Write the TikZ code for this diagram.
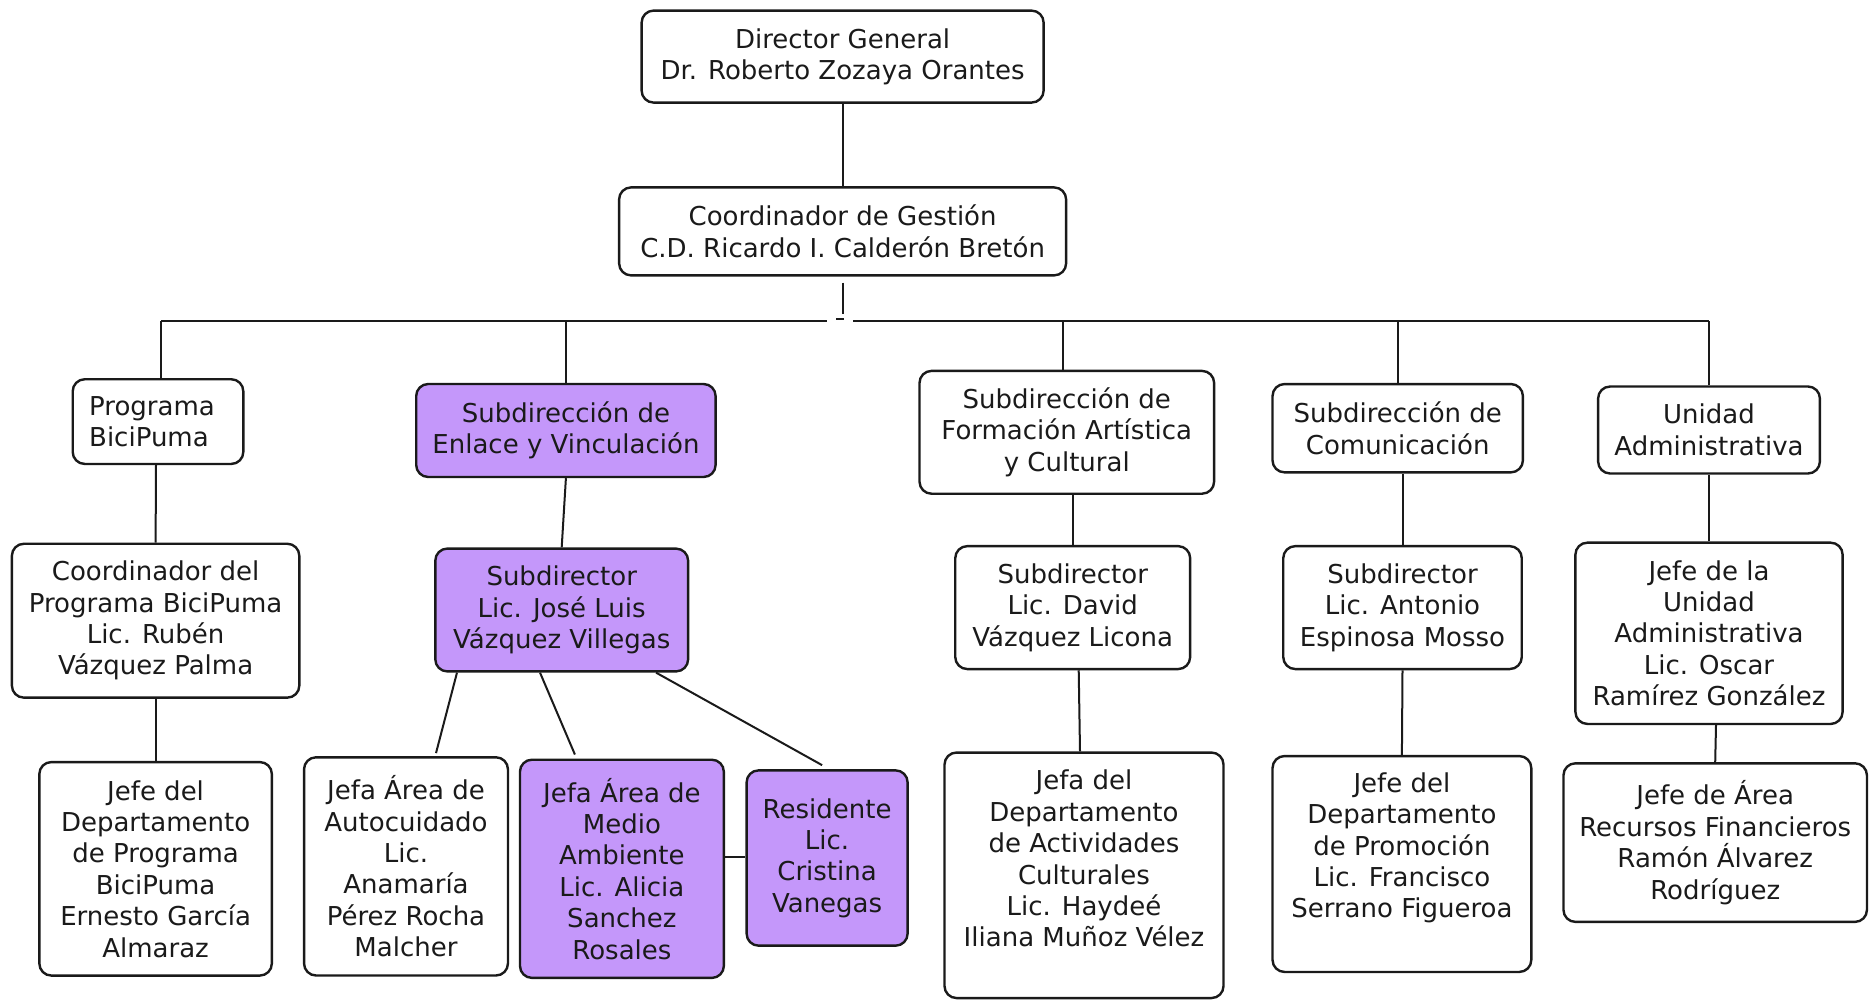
\documentclass[tikz,border=0pt]{standalone}
\usepackage{fontspec}
\setmainfont{DejaVu Sans}
\usetikzlibrary{calc}
\definecolor{lila}{RGB}{196,151,250}
\definecolor{ink}{RGB}{26,26,26}
\begin{document}
\begin{tikzpicture}[x=1pt,y=-1pt,
  orgtext/.style={align=center, text=ink, font=\fontsize{26}{31.4}\selectfont, inner sep=0pt},
  orgbox/.style={orgtext, draw=ink, line width=2.4pt, rounded corners=12pt, fill=white},
  hilite/.style={orgbox, fill=lila},
  wh/.style 2 args={minimum width=#1pt, minimum height=#2pt},
  link/.style={draw=ink, line width=2pt}]
\useasboundingbox (0,0) rectangle (1870,1000);

% top of the chart
\node[orgbox, wh={402}{92}] (dir) at (842.6,56.6) {Director General\\Dr. Roberto Zozaya Orantes};
\node[orgbox, wh={447}{88}] (coord) at (842.6,231.4) {Coordinador de Gestión\\C.D. Ricardo I. Calderón Bretón};

% second level
\node[orgbox, wh={170.6}{84.7}] (prog) at (158,421.6) {};
\node[orgtext, align=left] (progtxt) at (152,421.6) {Programa\\BiciPuma};
\node[hilite, wh={299.4}{93}] (enl) at (565.9,430.5) {Subdirección de\\Enlace y Vinculación};
\node[orgbox, wh={294.6}{122.8}] (form) at (1066.8,432.3) {Subdirección de\\Formación Artística\\y Cultural};
\node[orgbox, wh={250.4}{88.3}] (comu) at (1397.7,428.2) {Subdirección de\\Comunicación};
\node[orgbox, wh={221.8}{87}] (unid) at (1709,430) {Unidad\\Administrativa};

% third level
\node[orgbox, wh={287.4}{153.9}] (cprog) at (155.6,620.7) {Coordinador del\\Programa BiciPuma\\Lic. Rubén\\Vázquez Palma};
\node[hilite, wh={252.8}{122.8}] (jose) at (561.7,610) {Subdirector\\Lic. José Luis\\Vázquez Villegas};
\node[orgbox, wh={234.9}{122.9}] (david) at (1072.7,607.6) {Subdirector\\Lic. David\\Vázquez Licona};
\node[orgbox, wh={238.5}{122.9}] (anto) at (1402.5,607.6) {Subdirector\\Lic. Antonio\\Espinosa Mosso};
\node[orgbox, wh={267.2}{181.3}] (jefu) at (1709,633.3) {Jefe de la\\Unidad\\Administrativa\\Lic. Oscar\\Ramírez González};

% fourth level
\node[orgbox, wh={232.5}{213.5}] (dprog) at (155.6,868.8) {Jefe del\\Departamento\\de Programa\\BiciPuma\\Ernesto García\\Almaraz};
\node[orgbox, wh={203.9}{218.2}] (auto) at (406,866.4) {Jefa Área de\\Autocuidado\\Lic.\\Anamaría\\Pérez Rocha\\Malcher};
\node[hilite, wh={203.9}{218.2}] (medio) at (621.9,868.8) {Jefa Área de\\Medio\\Ambiente\\Lic. Alicia\\Sanchez\\Rosales};
\node[hilite, wh={161}{175.3}] (resid) at (827.1,858) {Residente\\Lic.\\Cristina\\Vanegas};
\node[orgbox, wh={279}{245.5}] (activ) at (1084,875.3) {};
\node[orgtext] (activtxt) at (1084,858.7) {Jefa del\\Departamento\\de Actividades\\Culturales\\Lic. Haydeé\\Iliana Muñoz Vélez};
\node[orgbox, wh={258.8}{215.9}] (promo) at (1401.9,864) {};
\node[orgtext] (promotxt) at (1401.9,848) {Jefe del\\Departamento\\de Promoción\\Lic. Francisco\\Serrano Figueroa};
\node[orgbox, wh={303.5}{158.6}] (recu) at (1715.2,842.6) {Jefe de Área\\Recursos Financieros\\Ramón Álvarez\\Rodríguez};

% director to coordinator
\draw[link] (dir.south) -- (coord.north);

% coordinator down to the distribution bus
\coordinate (hubtop) at ([yshift=-6pt]coord.south);
\draw[link] (hubtop) -- ++(0,31);
\coordinate (tickL) at (836,319);
\coordinate (tickR) at (844,319);
\draw[link] (tickL) -- (tickR);
\coordinate (busy) at (0,321);
\coordinate (gapL) at (827,321);
\coordinate (gapR) at (853,321);
\coordinate (dropP) at ([xshift=3pt]prog.north);
\coordinate (dropF) at ([xshift=-4pt]form.north);
\draw[link] (dropP |- busy) -- (gapL);
\draw[link] (gapR) -- (unid.north |- busy);
\foreach \n in {dropP,enl.north,dropF,comu.north,unid.north}
  \draw[link] (\n) -- (\n |- busy);

% second to third level
\draw[link] ([xshift=-2pt]prog.south) -- (cprog.north);
\draw[link] (enl.south) -- (jose.north);
\draw[link] (david.north) -- (david.north |- form.south);
\draw[link] (anto.north) -- (anto.north |- comu.south);
\draw[link] (jefu.north) -- (jefu.north |- unid.south);

% third to fourth level
\draw[link] (cprog.south) -- (dprog.north);
\draw[link] ([xshift=-104.7pt]jose.south) -- ([xshift=30pt,yshift=3pt]auto.north);
\draw[link] ([xshift=-21.7pt]jose.south) -- ([xshift=-47pt,yshift=4pt]medio.north);
\draw[link] ([xshift=94.3pt]jose.south) -- ([xshift=-5pt,yshift=4pt]resid.north);
\coordinate (mr) at ([yshift=12pt]medio.east);
\draw[link] (mr) -- (mr -| resid.west);
\draw[link] ([xshift=6pt]david.south) -- ([xshift=-4pt]activ.north);
\draw[link] (anto.south) -- (promo.north);
\draw[link] ([xshift=7pt]jefu.south) -- (recu.north);
\end{tikzpicture}
\end{document}
